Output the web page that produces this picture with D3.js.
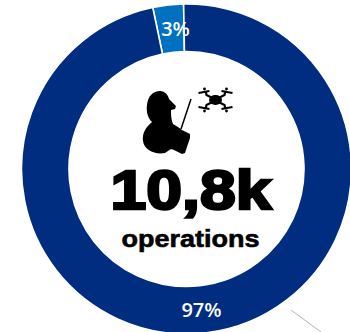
<!DOCTYPE html>
<html>
<head>
<meta charset="utf-8">
<script src="https://cdn.jsdelivr.net/npm/d3@7"></script>
<style>
  html, body { margin: 0; padding: 0; background: #fff; overflow: hidden; }
  svg { display: block; }
</style>
</head>
<body>
<svg id="chart" width="350" height="332"></svg>
<script>
// Share of operations by category
const categories = ["other", "main"];
const shares = [3, 97];
const shareColors = ["#0070c0", "#002d80"];
const headline = "10,8k";
const caption = "operations";

const width = 350, height = 332;
const cx = 186.5, cy = 169;
const outerR = 165, innerR = 117.5;

const svg = d3.select("#chart");
const ring = svg.append("g").attr("transform", `translate(${cx},${cy})`);

// The small slice sits just left of twelve o'clock
const startDeg = -11.8;
const pie = d3.pie().sort(null).value(d => d.value)
  .startAngle(startDeg * Math.PI / 180)
  .endAngle((startDeg + 360) * Math.PI / 180);
const arc = d3.arc().innerRadius(innerR).outerRadius(outerR);
const rows = categories.map((c, i) => ({ name: c, value: shares[i], color: shareColors[i] }));
const arcs = pie(rows);

ring.selectAll("path").data(arcs).join("path")
  .attr("d", arc)
  .attr("fill", d => d.data.color)
  .attr("stroke", "#fff")
  .attr("stroke-width", 1.6);

// Percent labels: the thin slice label on its band, the main one at the bottom
const labelPos = [[-11, -140], [15, 141]];
ring.selectAll("text.pct").data(arcs).join("text")
  .attr("class", "pct")
  .attr("x", (d, i) => labelPos[i][0])
  .attr("y", (d, i) => labelPos[i][1])
  .attr("dy", "0.36em")
  .attr("text-anchor", "middle")
  .attr("font-family", "'Open Sans', sans-serif")
  .attr("font-weight", 600)
  .attr("font-size", 20)
  .attr("fill", "#fff")
  .text(d => d.data.value + "%");

// Centre caption, stretched to the heavy wide look of the headline
svg.append("text")
  .attr("x", 110.5).attr("y", 208.5)
  .attr("textLength", 161)
  .attr("lengthAdjust", "spacingAndGlyphs")
  .attr("font-family", "'Liberation Sans', Arial, sans-serif")
  .attr("font-weight", 700)
  .attr("font-size", 56)
  .attr("stroke", "#000").attr("stroke-width", 2.6)
  .attr("fill", "#000")
  .text(headline);

svg.append("text")
  .attr("x", 121.5).attr("y", 247)
  .attr("textLength", 138)
  .attr("lengthAdjust", "spacingAndGlyphs")
  .attr("font-family", "'Liberation Sans', Arial, sans-serif")
  .attr("font-weight", 700)
  .attr("font-size", 24)
  .attr("stroke", "#000").attr("stroke-width", 0.6)
  .attr("fill", "#000")
  .text(caption);

// Leader line running off the lower right edge
svg.append("line")
  .attr("x1", 291).attr("y1", 310).attr("x2", 321).attr("y2", 332)
  .attr("stroke", "#b5b5b5").attr("stroke-width", 1);

// Pilot silhouette
const icon = svg.append("g").attr("fill", "#000");
icon.append("path").attr("d",
  "M160 91 C165 91 168 95 169 99 L176 106 L175 109 L171 110 C171 115 171 119 173 124 L178 127 L182 130 L190 134 L190 138 L185 153 L182 154 L174 150 L171 149 L165 153 C155 155 144 150 143 141 C142 133 146 127 152 122 C148 118 146 112 147 105 C148 96 153 91 160 91 Z");
icon.append("line").attr("x1", 191).attr("y1", 99).attr("x2", 181).attr("y2", 129)
  .attr("stroke", "#000").attr("stroke-width", 1.5);

// Drone: body plus four arms with rotors
const drone = svg.append("g").attr("transform", "translate(215.5,100)");
drone.append("ellipse").attr("rx", 6.5).attr("ry", 5).attr("fill", "#000");
[[-1, -1], [1, -1], [-1, 1], [1, 1]].forEach(([sx, sy]) => {
  drone.append("path")
    .attr("d", `M${sx * 3} ${sy * 2} L${sx * 9} ${sy * 5} L${sx * 10} ${sy * 9}`)
    .attr("fill", "none").attr("stroke", "#000").attr("stroke-width", 2.2);
  drone.append("line")
    .attr("x1", sx * 6).attr("y1", sy * 9).attr("x2", sx * 17).attr("y2", sy * 7)
    .attr("stroke", "#000").attr("stroke-width", 2);
  drone.append("circle")
    .attr("cx", sx * 11).attr("cy", sy * 11).attr("r", 1.4).attr("fill", "#000");
});
</script>
</body>
</html>
